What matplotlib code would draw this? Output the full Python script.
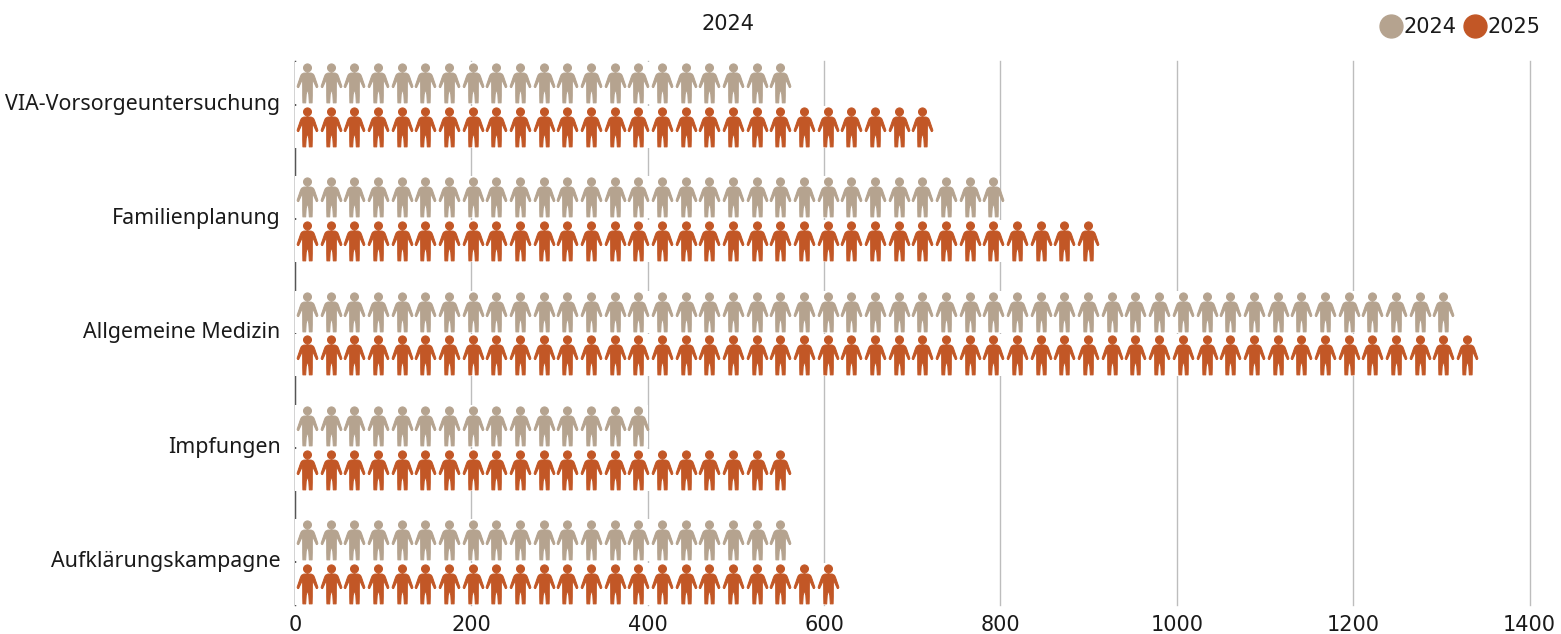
#coding=utf-8
import numpy as np
import matplotlib
matplotlib.use('Agg')
import matplotlib.pyplot as plt
from matplotlib.lines import Line2D
from matplotlib.path import Path
from matplotlib.transforms import ScaledTranslation

categories = ['VIA-Vorsorgeuntersuchung', 'Familienplanung', 'Allgemeine Medizin',
              'Impfungen', 'Aufklärungskampagne']
values_2024 = [560, 800, 1310, 400, 560]
values_2025 = [720, 910, 1340, 560, 610]
x_ticks = [0, 200, 400, 600, 800, 1000, 1200, 1400]

UNIT = 26.85  # one person stands for this many cases
COLOR_2024 = '#b5a38f'
COLOR_2025 = '#c25726'
TEXT = '#1a1a1a'
W, H = 1561, 634
DPI = 100


def person_marker():
    # outline in pixels, centre of the figure is (0, 0)
    right = [(0, 10.6), (3.8, 10.4), (6, 9.2), (7, 7.2), (10.4, -2.8), (9.9, -3.9), (8.9, -4.1),
             (5.8, 2.6), (4.9, 2.6), (4.8, -6), (4.8, -12), (4.6, -19.4), (1.8, -19.4), (1.3, -11),
             (0, -5.8)]
    left = [(-x, y) for x, y in reversed(right[:-1])]
    pts = right + left
    body = Path(pts + [pts[0]], [Path.MOVETO] + [Path.LINETO] * (len(pts) - 1) + [Path.CLOSEPOLY])
    c = Path.unit_circle()
    head = Path(c.vertices * 4.0 + np.array([0, 15.6]), c.codes)
    return Path.make_compound_path(head, body)


def draw_row(ax, vals, offset, color):
    ys = np.arange(len(vals)) + offset
    # white strip hides the grid behind the icons
    ax.barh(ys, vals, height=42 / 114.3, color='white', zorder=1.5)
    for y, val in zip(ys, vals):
        n = int(np.ceil(val / UNIT))
        xs = (np.arange(n) + 0.5) * UNIT
        pts = ax.scatter(xs, [y] * n, marker=person_marker(), s=(39.2 * 72 / DPI) ** 2,
                         color=color, edgecolors=color, linewidths=0.7, zorder=3)
        pts.set_snap(False)


def main():
    plt.rcParams['font.family'] = ['DejaVu Sans']
    fig = plt.figure(figsize=(W / DPI, H / DPI), dpi=DPI)
    ax = fig.add_axes([295 / W, 1 - 605 / H, (1529.5 - 295) / W, (605 - 61) / H])

    draw_row(ax, values_2024, -22 / 114.3, COLOR_2024)
    draw_row(ax, values_2025, 22 / 114.3, COLOR_2025)

    ax.set_xlim(0, 1400)
    ax.set_ylim(4 + 43 / 114.3, -44 / 114.3)
    ax.set_xticks(x_ticks)
    ax.set_yticks(range(len(categories)))
    ax.set_yticklabels(categories, family=['Noto Sans', 'DejaVu Sans'], fontsize=15.4, color=TEXT)
    ax.tick_params(axis='y', length=0, pad=10.5)
    ax.tick_params(axis='x', length=0, pad=7.5, labelsize=15, labelcolor=TEXT)
    # labels sit a little above the middle of each group
    lift = ScaledTranslation(0, 3 / DPI, fig.dpi_scale_trans)
    for label in ax.get_yticklabels():
        label.set_transform(label.get_transform() + lift)

    ax.grid(axis='x', color='#bdbdbd', linewidth=1)
    for line in ax.get_xgridlines():
        line.set_clip_on(False)
    ax.set_axisbelow(True)
    for name in ['top', 'right', 'bottom']:
        ax.spines[name].set_visible(False)
    ax.spines['left'].set_color('#555555')
    ax.spines['left'].set_linewidth(1)
    ax.spines['left'].set_zorder(1)

    fig.text(728 / W, 1 - 24 / H, '2024', ha='center', va='center', fontsize=15, color=TEXT)
    handles = [Line2D([], [], linestyle='none', marker='o', markersize=16.5, color=COLOR_2024),
               Line2D([], [], linestyle='none', marker='o', markersize=16.5, color=COLOR_2025)]
    fig.legend(handles, ['2024', '2025'], ncol=2, frameon=False, fontsize=15,
               loc='center right', bbox_to_anchor=(1541 / W, 1 - 27 / H), borderpad=0, borderaxespad=0,
               handlelength=1.1, handletextpad=0.05, columnspacing=0.36, labelcolor=TEXT)

    fig.savefig('out.png', dpi=DPI)


if __name__ == '__main__':
    main()
